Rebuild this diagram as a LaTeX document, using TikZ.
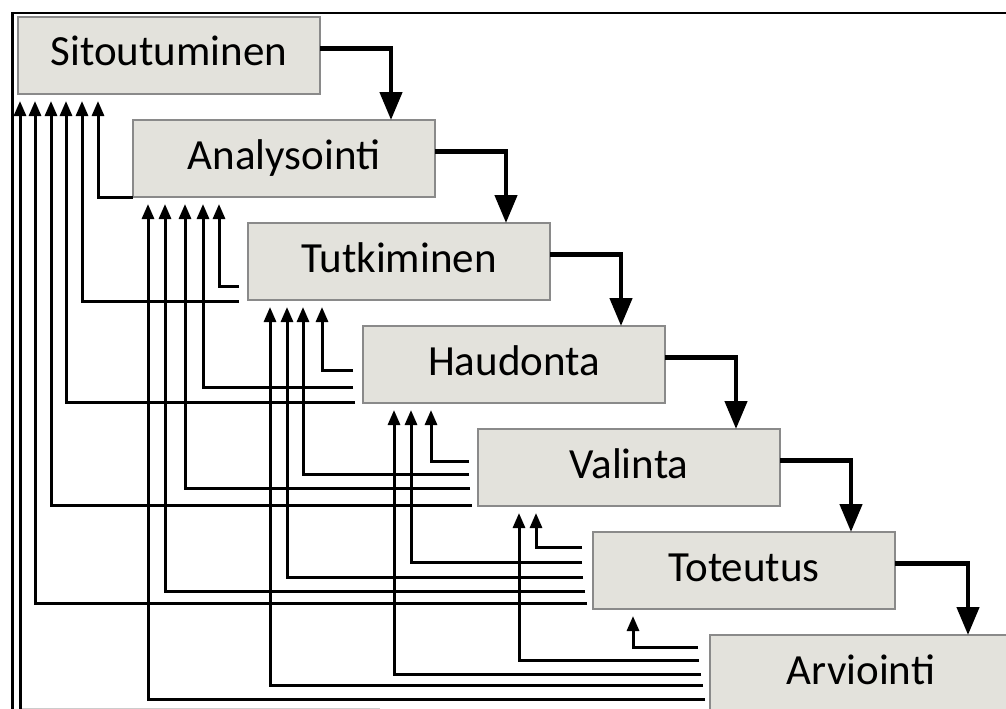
\documentclass[tikz,border=0pt]{standalone}
\usepackage{fontspec}
\usepackage{tikz}
\usetikzlibrary{arrows.meta, positioning, calc}
\newfontfamily\boxfont{Carlito}
\definecolor{boxfill}{HTML}{E3E2DC}
\definecolor{boxline}{HTML}{8A8A8A}
\definecolor{edgegray}{HTML}{CCCCCC}

\begin{document}
\begin{tikzpicture}[
  x=1pt, y=-1pt,
  box/.style={rectangle, draw=boxline, fill=boxfill, line width=2pt, outer sep=0pt, minimum width=302pt, minimum height=77pt, inner sep=0pt, text height=28pt, text depth=7pt, font=\boxfont\fontsize{43}{50}\selectfont},
  fwd/.style={-{Triangle[length=28pt,width=22pt]}, line width=4.5pt},
  fb/.style={-{Triangle[length=15pt,width=12pt]}, line width=3pt},
  frame/.style={line width=2.5pt, color=black}
]
  \path[use as bounding box, fill=white] (0,0) rectangle (1006,709);
  \clip (0,0) rectangle (1006,709);

  % Frame
  \draw[frame] (12.5,712) |- (1012,13);
  \draw[edgegray, line width=1pt] (20,708) -- (380,708);

  % Steps
  \node[box, anchor=north west] (b1) at (18,17) {Sitoutuminen};
  \node[box, anchor=north west] (b2) at ([xshift=115pt, yshift=-26pt]b1.south west) {Analysointi};
  \node[box, anchor=north west] (b3) at ([xshift=115pt, yshift=-26pt]b2.south west) {Tutkiminen};
  \node[box, anchor=north west] (b4) at ([xshift=115pt, yshift=-26pt]b3.south west) {Haudonta};
  \node[box, anchor=north west] (b5) at ([xshift=115pt, yshift=-26pt]b4.south west) {Valinta};
  \node[box, anchor=north west] (b6) at ([xshift=115pt, yshift=-26pt]b5.south west) {Toteutus};
  \node[box, anchor=north west] (b7) at ([xshift=117pt, yshift=-26pt]b6.south west) {Arviointi};

  % Forward arrows
  \draw[fwd] ([yshift=7pt]b1.east) -| ([xshift=258pt]b2.north west);
  \draw[fwd] ([yshift=7pt]b2.east) -| ([xshift=258pt]b3.north west);
  \draw[fwd] ([yshift=7pt]b3.east) -| ([xshift=258pt]b4.north west);
  \draw[fwd] ([yshift=7pt]b4.east) -| ([xshift=258pt]b5.north west);
  \draw[fwd] ([yshift=7pt]b5.east) -| ([xshift=258pt]b6.north west);
  \draw[fwd] ([yshift=7pt]b6.east) -| ([xshift=258pt]b7.north west);

  % Feedback from Analysointi
  \draw[fb] (b2.south west) -| ([shift={(80,7)}]b1.south west);

  % Feedback from Tutkiminen
  \draw[fb] ([shift={(-9,63)}]b3.north west) -| ([shift={(86,7)}]b2.south west);
  \draw[fb] ([shift={(-9,78)}]b3.north west) -| ([shift={(64,7)}]b1.south west);

  % Feedback from Haudonta
  \draw[fb] ([shift={(-10,44)}]b4.north west) -| ([shift={(74,7)}]b3.south west);
  \draw[fb] ([shift={(-10,61)}]b4.north west) -| ([shift={(70,7)}]b2.south west);
  \draw[fb] ([shift={(-8,76)}]b4.north west) -| ([shift={(48,7)}]b1.south west);

  % Feedback from Valinta
  \draw[fb] ([shift={(-9,32)}]b5.north west) -| ([shift={(68,7)}]b4.south west);
  \draw[fb] ([shift={(-9,45)}]b5.north west) -| ([shift={(55,7)}]b3.south west);
  \draw[fb] ([shift={(-8,59)}]b5.north west) -| ([shift={(52,7)}]b2.south west);
  \draw[fb] ([shift={(-6,76)}]b5.north west) -| ([shift={(33,7)}]b1.south west);

  % Feedback from Toteutus
  \draw[fb] ([shift={(-11,15)}]b6.north west) -| ([shift={(58,7)}]b5.south west);
  \draw[fb] ([shift={(-11,30)}]b6.north west) -| ([shift={(48,7)}]b4.south west);
  \draw[fb] ([shift={(-10,45)}]b6.north west) -| ([shift={(39,7)}]b3.south west);
  \draw[fb] ([shift={(-8,59)}]b6.north west) -| ([shift={(32,7)}]b2.south west);
  \draw[fb] ([shift={(-6,71)}]b6.north west) -| ([shift={(17,7)}]b1.south west);

  % Feedback from Arviointi
  \draw[fb] ([shift={(-12,12)}]b7.north west) -| ([shift={(40,7)}]b6.south west);
  \draw[fb] ([shift={(-11,25)}]b7.north west) -| ([shift={(41,7)}]b5.south west);
  \draw[fb] ([shift={(-9,39)}]b7.north west) -| ([shift={(31,7)}]b4.south west);
  \draw[fb] ([shift={(-7,50)}]b7.north west) -| ([shift={(22,7)}]b3.south west);
  \draw[fb] ([shift={(-5,64)}]b7.north west) -| ([shift={(15,7)}]b2.south west);
  \draw[fb] ([shift={(-4,78)}]b7.north west) -| ([shift={(2,7)}]b1.south west);
\end{tikzpicture}
\end{document}
